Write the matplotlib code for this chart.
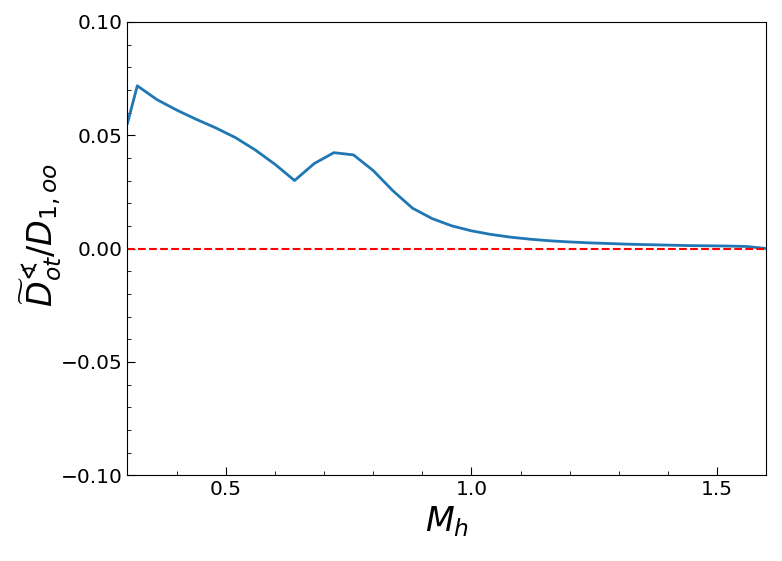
import matplotlib
matplotlib.use("Agg")
import matplotlib.pyplot as plt
from matplotlib.ticker import MultipleLocator

# Data
mh = [0.30, 0.32, 0.36, 0.40, 0.44, 0.48, 0.52, 0.56, 0.60, 0.64, 0.68,
      0.72, 0.76, 0.80, 0.84, 0.88, 0.92, 0.96, 1.00, 1.04, 1.08, 1.12,
      1.16, 1.20, 1.24, 1.28, 1.32, 1.36, 1.40, 1.44, 1.48, 1.52, 1.56, 1.60]
ratio = [0.0553, 0.0718, 0.0657, 0.0611, 0.0570, 0.0532, 0.0489, 0.0435,
         0.0372, 0.0300, 0.0375, 0.0423, 0.0413, 0.0344, 0.0255, 0.0178,
         0.0132, 0.0100, 0.0078, 0.0062, 0.0050, 0.0041, 0.0034, 0.0029,
         0.0025, 0.0022, 0.0019, 0.0017, 0.0015, 0.0013, 0.0012, 0.0011,
         0.0009, 0.0000]

fig = plt.figure(figsize=(7.82, 5.61), dpi=100)
ax = fig.add_axes([0.163, 0.153, 0.817, 0.808])

ax.plot(mh, ratio, color="tab:blue", linewidth=2.0)
ax.axhline(0.0, color="r", linestyle="--", linewidth=1.5)

ax.set_xlim(0.3, 1.6)
ax.set_ylim(-0.1, 0.1)
ax.xaxis.set_major_locator(MultipleLocator(0.5))
ax.xaxis.set_minor_locator(MultipleLocator(0.1))
ax.yaxis.set_major_locator(MultipleLocator(0.05))
ax.yaxis.set_minor_locator(MultipleLocator(0.01))
ax.tick_params(which="both", direction="in", labelsize=14.5)
ax.tick_params(which="major", length=6)
ax.tick_params(which="minor", length=3)

ax.set_xlabel(r"$M_h$", fontsize=24)
ax.set_ylabel(r"$\widetilde{D}^{\sphericalangle}_{ot}/D_{1,oo}$", fontsize=24)
ax.yaxis.set_label_coords(-0.10, 0.53)

fig.savefig("out.png", dpi=100)
